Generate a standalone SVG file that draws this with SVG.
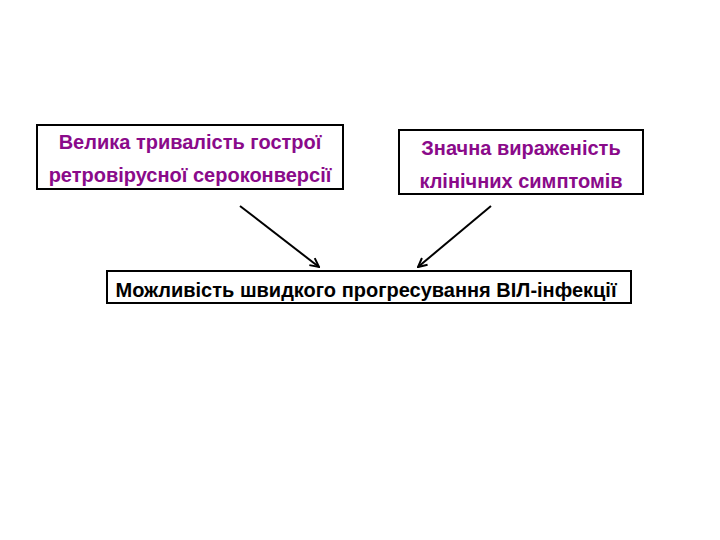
<svg xmlns="http://www.w3.org/2000/svg" width="720" height="540" viewBox="0 0 720 540">
<defs>
<style>
.box{fill:#fff;stroke:#000;stroke-width:2}
.t{font-family:"Liberation Sans",Arial,sans-serif;font-weight:bold;text-anchor:middle}
.p{fill:#8a0a8a;font-size:20px}
.k{fill:#000;font-size:20px}
.c{stroke:#000;stroke-width:2;fill:none}
</style>
<marker id="ah" viewBox="0 0 10 10" refX="9" refY="5" markerWidth="11" markerHeight="11" orient="auto" markerUnits="userSpaceOnUse">
<path d="M1,1 L9,5 L1,9" fill="none" stroke="#000" stroke-width="1.8"/>
</marker>
</defs>
<rect width="720" height="540" fill="#fff"/>
<g id="node1">
<rect class="box" x="37" y="125" width="306" height="64"/>
<text class="t p" x="190" y="149">Велика тривалість гострої</text>
<text class="t p" x="190" y="182">ретровірусної сероконверсії</text>
</g>
<g id="node2">
<rect class="box" x="399" y="130" width="244" height="64"/>
<text class="t p" x="521" y="155">Значна вираженість</text>
<text class="t p" x="521" y="188">клінічних симптомів</text>
</g>
<g id="node3">
<rect class="box" x="107" y="271" width="524" height="32"/>
<text class="t k" x="366" y="297">Можливість швидкого прогресування ВІЛ-інфекції</text>
</g>
<g id="connectors">
<line class="c" x1="240" y1="206" x2="319" y2="267" marker-end="url(#ah)"/>
<line class="c" x1="491" y1="206" x2="418" y2="267" marker-end="url(#ah)"/>
</g>
</svg>
